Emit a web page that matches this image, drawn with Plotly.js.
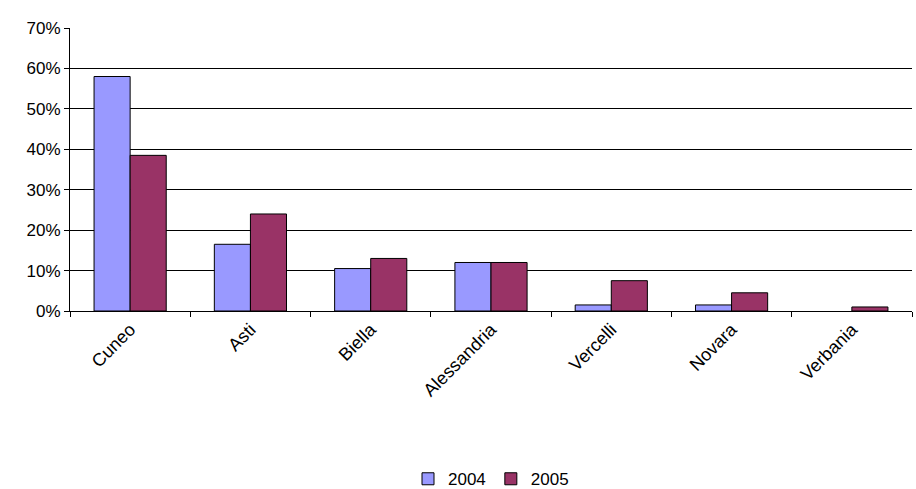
<!DOCTYPE html>
<html>
<head>
<script src="https://cdn.plot.ly/plotly-3.0.1.min.js"></script>
<style>body{margin:0;background:#fff}</style>
</head>
<body>
<div id="chart" style="width:916px;height:489px"></div>
<script>
const provinces = ['Cuneo', 'Asti', 'Biella', 'Alessandria', 'Vercelli', 'Novara', 'Verbania'];
const values2004 = [0.58, 0.165, 0.105, 0.12, 0.015, 0.015, 0];
const values2005 = [0.385, 0.24, 0.13, 0.12, 0.075, 0.045, 0.01];

const traces = [
    { x: provinces, y: values2004, name: '2004', type: 'bar',
      marker: { color: '#9999FF', line: { color: '#000', width: values2004.map(v => v > 0 ? 1 : 0) } } },
    { x: provinces, y: values2005, name: '2005', type: 'bar',
      marker: { color: '#993366', line: { color: '#000', width: 1 } } }
];

const layout = {
    width: 916, height: 489,
    margin: { l: 70, r: 4, t: 28, b: 178 },
    font: { family: 'Liberation Sans, Arial, sans-serif', size: 17, color: '#000' },
    paper_bgcolor: '#fff', plot_bgcolor: '#fff',
    bargap: 0.4, bargroupgap: 0,
    showlegend: true,
    legend: { orientation: 'h', x: 0.5, xanchor: 'center', yref: 'container', y: 0.02, yanchor: 'middle', font: { size: 17 } },
    xaxis: { tickangle: -45, showline: true, linecolor: '#000', ticks: 'outside', tickson: 'boundaries', automargin: false,
             ticklen: 5, tickcolor: '#000', showgrid: false, tickfont: { size: 18 } },
    yaxis: { range: [0, 0.7], dtick: 0.1, tickformat: '.0%', showline: true, linecolor: '#000', automargin: false,
             ticks: 'outside', ticklen: 5, tickcolor: '#000', gridcolor: '#000', gridwidth: 1, zeroline: false }
};

Plotly.newPlot('chart', traces, layout, { displayModeBar: false });
</script>
</body>
</html>
